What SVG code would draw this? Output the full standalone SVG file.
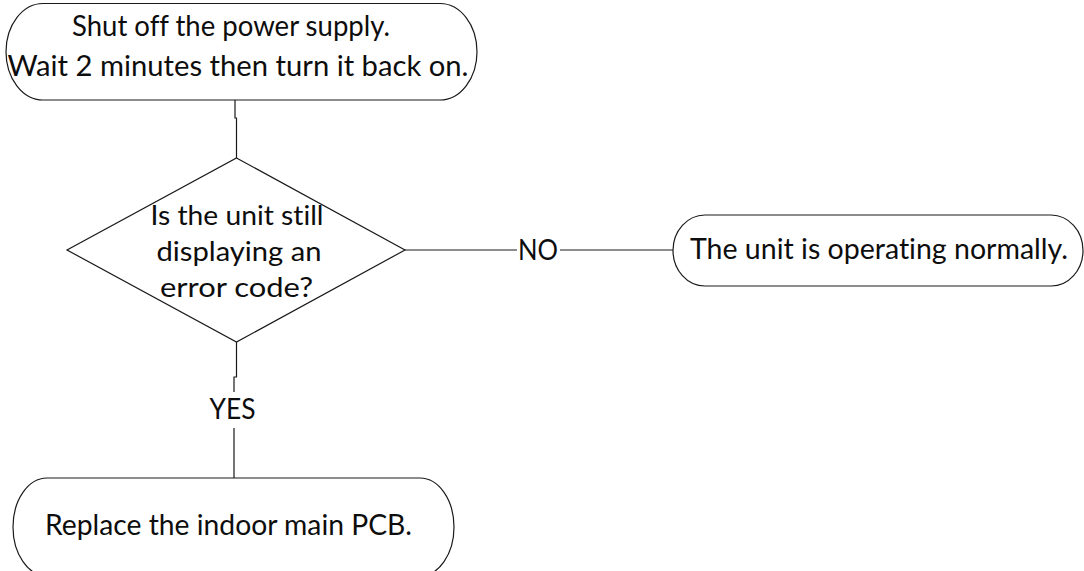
<svg xmlns="http://www.w3.org/2000/svg" width="1084" height="571" viewBox="0 0 1084 571">
<style>
.shape{fill:#fff;stroke:#1a1a1a;stroke-width:1.2}
.conn{fill:none;stroke:#1a1a1a;stroke-width:1.2}
.t{font-family:Lato,"Open Sans","Liberation Sans",sans-serif;fill:#0d0d0d;font-size:28.5px;font-variant-ligatures:none;font-feature-settings:"liga" 0,"clig" 0}
.d{font-size:27px}
</style>
<rect width="1084" height="571" fill="#fff"/>
<g id="connectors">
<path class="conn" d="M235,100 V118 H236.5 V158"/>
<path class="conn" d="M405,250 H517 M560,250 H673"/>
<path class="conn" d="M236.5,342 V377 H234 V392 M234,428 V478"/>
</g>
<g id="start">
<path class="shape" d="M43,3.5 H440 A37,48.25 0 0 1 440,100 H43 A37,48.25 0 0 1 43,3.5 Z"/>
<text class="t" x="231" y="36" text-anchor="middle" textLength="318" lengthAdjust="spacingAndGlyphs">Shut off the power supply.</text>
<text class="t" x="238" y="76" text-anchor="middle" textLength="461" lengthAdjust="spacingAndGlyphs">Wait 2 minutes then turn it back on.</text>
</g>
<g id="decision">
<polygon class="shape" points="236.5,158 405,250 236.5,342 67,250"/>
<text class="t d" x="237" y="225" text-anchor="middle" textLength="173" lengthAdjust="spacingAndGlyphs">Is the unit still</text>
<text class="t d" x="239" y="261" text-anchor="middle" textLength="165" lengthAdjust="spacingAndGlyphs">displaying an</text>
<text class="t d" x="236.5" y="297" text-anchor="middle" textLength="153" lengthAdjust="spacingAndGlyphs">error code?</text>
</g>
<g id="label-no">
<text class="t" x="538" y="260" text-anchor="middle" textLength="40" lengthAdjust="spacingAndGlyphs">NO</text>
</g>
<g id="normal">
<path class="shape" d="M705,215 H1051 A32,35.5 0 0 1 1051,286 H705 A32,35.5 0 0 1 705,215 Z"/>
<text class="t" x="879" y="259" text-anchor="middle" textLength="378" lengthAdjust="spacingAndGlyphs">The unit is operating normally.</text>
</g>
<g id="label-yes">
<text class="t" x="232.5" y="419" text-anchor="middle" textLength="46" lengthAdjust="spacingAndGlyphs">YES</text>
</g>
<g id="replace">
<path class="shape" d="M47,478 H420 A34,49 0 0 1 420,576 H47 A34,49 0 0 1 47,478 Z"/>
<text class="t" x="228.5" y="535" text-anchor="middle" textLength="367" lengthAdjust="spacingAndGlyphs">Replace the indoor main PCB.</text>
</g>
</svg>
